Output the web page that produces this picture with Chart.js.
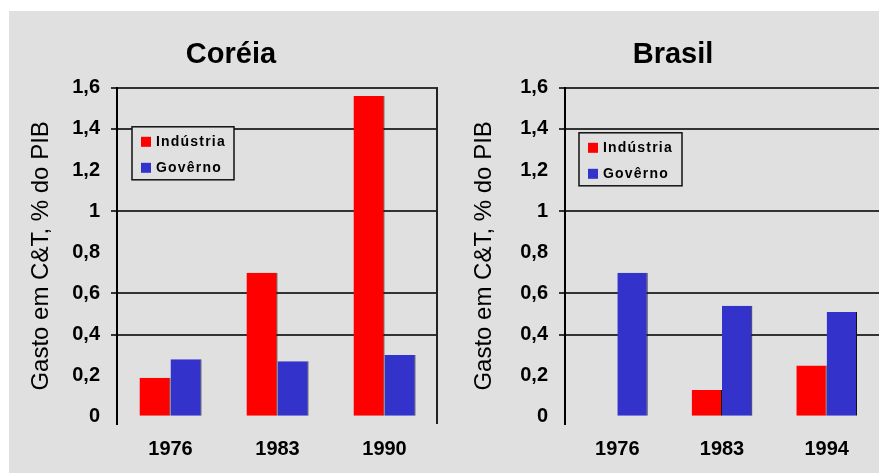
<!DOCTYPE html>
<html>
<head>
<meta charset="utf-8">
<script src="https://cdn.jsdelivr.net/npm/chart.js@4.4.0/dist/chart.umd.min.js"></script>
<style>
    body { margin: 0; background: #fff; width: 879px; height: 475px; overflow: hidden; }
    #panel { position: absolute; left: 9px; top: 11px; width: 870px; height: 462px; background: #e0e0e0; }
    #coreia { position: absolute; left: 0; top: 0; }
    #brasil { position: absolute; left: 431px; top: 0; }
</style>
</head>
<body>
<div id="panel">
    <canvas id="coreia" width="431" height="462"></canvas>
    <canvas id="brasil" width="439" height="462"></canvas>
</div>
<script>
// Data
const coreiaYears = ['1976', '1983', '1990'];
const coreiaIndustria = [0.19, 0.70, 1.56];
const coreiaGoverno = [0.28, 0.27, 0.30];

const brasilYears = ['1976', '1983', '1994'];
const brasilIndustria = [null, 0.13, 0.25];
const brasilGoverno = [0.70, 0.54, 0.51];

const yTicks = [0, 0.2, 0.4, 0.6, 0.8, 1, 1.2, 1.4, 1.6];
// only these gridlines survive in the original scan
const yGridShown = [0.4, 0.6, 1, 1.4, 1.6];

const seriesLabels = ['Indústria', 'Govêrno'];
const seriesColors = ['#ff0000', '#3333cc'];

Chart.defaults.font.family = "'Liberation Sans', Arial, sans-serif";
Chart.defaults.color = '#000';

// Legend box drawn inside the plot area, plus the optional right frame line
const boxLegend = {
    id: 'boxLegend',
    afterDatasetsDraw(chart, args, opts) {
        const { ctx, chartArea } = chart;
        ctx.save();
        if (opts.rightBorder) {
            ctx.strokeStyle = '#222';
            ctx.lineWidth = 2;
            ctx.beginPath();
            ctx.moveTo(chartArea.right - 1, chart.scales.y.getPixelForValue(1.6));
            ctx.lineTo(chartArea.right - 1, chartArea.bottom);
            ctx.stroke();
        }
        const x = chartArea.left + opts.dx;
        const y = chartArea.top + opts.dy;
        ctx.fillStyle = '#e0e0e0';
        ctx.fillRect(x, y, opts.w, opts.h);
        ctx.strokeStyle = '#111';
        ctx.lineWidth = 1.5;
        ctx.strokeRect(x, y, opts.w, opts.h);
        ctx.font = "bold 14px 'Liberation Sans', Arial, sans-serif";
        ctx.letterSpacing = '1.2px';
        ctx.textBaseline = 'middle';
        chart.data.datasets.forEach((ds, i) => {
            const cy = y + 15 + i * 26;
            ctx.fillStyle = ds.backgroundColor;
            ctx.fillRect(x + 9, cy - 5, 10, 10);
            ctx.fillStyle = '#000';
            ctx.fillText(ds.label, x + 24, cy);
        });
        ctx.restore();
    }
};

function makeChart(id, title, years, industria, governo, lay) {
    return new Chart(document.getElementById(id), {
        type: 'bar',
        data: {
            labels: years,
            datasets: [industria, governo].map((vals, i) => ({
                label: seriesLabels[i],
                data: vals,
                backgroundColor: seriesColors[i],
                borderColor: '#111',
                borderWidth: { left: 0, right: 1, top: 0, bottom: 0 },
                categoryPercentage: 0.58,
                barPercentage: 1
            }))
        },
        options: {
            responsive: false,
            animation: false,
            layout: { padding: { left: lay.padLeft, right: lay.padRight, top: 0, bottom: 0 } },
            plugins: {
                legend: { display: false },
                tooltip: { enabled: false },
                title: {
                    display: true,
                    text: title,
                    color: '#000',
                    font: { size: 29, weight: 'bold' },
                    padding: { top: 27, bottom: 15 }
                },
                boxLegend: lay.legend
            },
            scales: {
                x: {
                    grid: { display: false },
                    border: { display: false },
                    afterFit: s => { s.height = 49; },
                    ticks: { padding: 5, font: { size: 20, weight: 'bold' }, color: '#000' }
                },
                y: {
                    min: -0.035,
                    max: 1.6,
                    afterBuildTicks: s => { s.ticks = yTicks.map(v => ({ value: v })); },
                    afterFit: s => { s.width = lay.axisWidth; },
                    border: { color: '#000', width: 2 },
                    grid: {
                        color: c => (c.tick && yGridShown.includes(c.tick.value)) ? '#333' : 'rgba(0,0,0,0)',
                        lineWidth: 2,
                        tickLength: 6
                    },
                    ticks: {
                        padding: 11,
                        color: '#000',
                        font: { size: 20, weight: 'bold' },
                        callback: v => String(v).replace('.', ',')
                    },
                    title: {
                        display: true,
                        text: 'Gasto em C&T, % do PIB',
                        color: '#000',
                        font: { size: 24 },
                        padding: { top: 3, bottom: 0 }
                    }
                }
            }
        },
        plugins: [boxLegend]
    });
}

makeChart('coreia', 'Coréia', coreiaYears, coreiaIndustria, coreiaGoverno, {
    padLeft: 15, padRight: 2, axisWidth: 93,
    legend: { dx: 15, dy: 39, w: 102, h: 53, rightBorder: true }
});
makeChart('brasil', 'Brasil', brasilYears, brasilIndustria, brasilGoverno, {
    padLeft: 27, padRight: 0, axisWidth: 98,
    legend: { dx: 14, dy: 45, w: 103, h: 53, rightBorder: false }
});
</script>
</body>
</html>
